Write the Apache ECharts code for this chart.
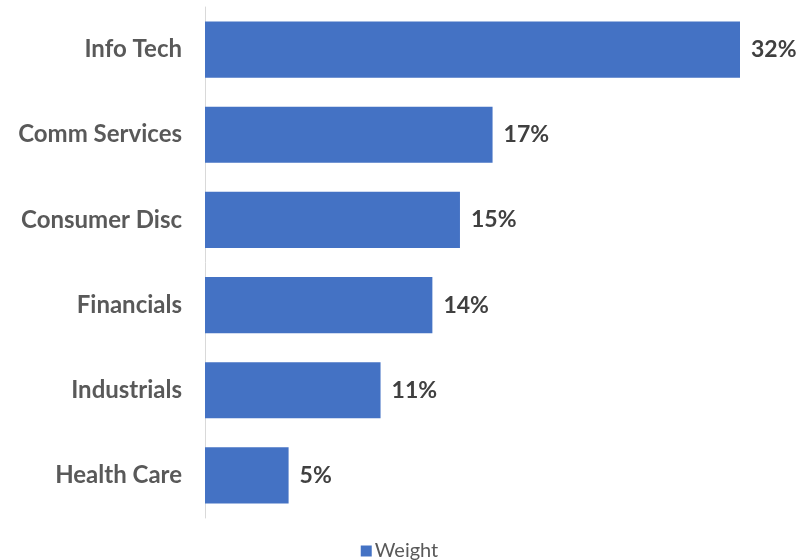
<!DOCTYPE html>
<html><head><meta charset="utf-8">
<script src="https://cdn.jsdelivr.net/npm/echarts@6/dist/echarts.min.js"></script>
<style>html,body{margin:0;padding:0;background:#fff}#c{width:799px;height:560px}</style>
</head><body><div id="c"></div>
<script>
const categories = ['Info Tech','Comm Services','Consumer Disc','Financials','Industrials','Health Care'];
const weights = [32.0, 17.2, 15.25, 13.6, 10.5, 5.0];
const seriesName = 'Weight';

const chart = echarts.init(document.getElementById('c'));
chart.setOption({
  animation: false,
  textStyle: { fontFamily: 'Lato' },
  grid: { left: 205, right: 59, top: 7, bottom: 42 },
  legend: {
    bottom: -6, left: 'center',
    itemWidth: 11, itemHeight: 11, itemGap: 4,
    icon: 'rect',
    textStyle: { fontSize: 20, color: '#595959', fontFamily: 'Lato', padding: [0,0,0,-2] },
    data: [seriesName]
  },
  xAxis: { type: 'value', min: 0, max: 32, show: false },
  yAxis: {
    type: 'category', inverse: true, data: categories,
    axisLine: { show: true, lineStyle: { color: '#d9d9d9', width: 1 } },
    axisTick: { show: false },
    axisLabel: { fontSize: 24, fontWeight: 'bold', color: '#595959', margin: 23, fontFamily: 'Lato' }
  },
  series: [{
    name: seriesName, type: 'bar', data: weights,
    barCategoryGap: '34%',
    itemStyle: { color: '#4472C4' },
    label: {
      show: true, position: 'right', distance: 11,
      fontSize: 23, fontWeight: 'bold', color: '#404040', fontFamily: 'Lato',
      formatter: p => Math.round(p.value) + '%'
    }
  }]
});
</script></body></html>
